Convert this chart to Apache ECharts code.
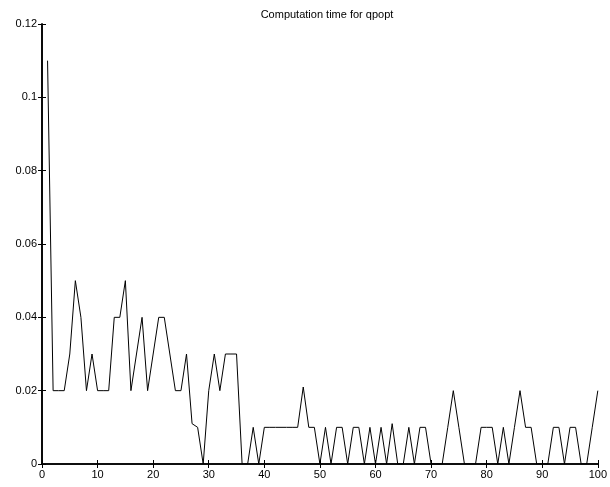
<!DOCTYPE html>
<html>
<head>
<meta charset="utf-8">
<script src="https://cdn.jsdelivr.net/npm/echarts@6/dist/echarts.min.js"></script>
<style>
html,body{margin:0;padding:0;background:#fff;}
#chart{width:610px;height:487px;}
</style>
</head>
<body>
<div id="chart"></div>
<script>
var titleText = "Computation time for qpopt";
var iterations = [];
for (var i = 1; i <= 100; i++) iterations.push(i);
var times = [
  0.11, 0.02, 0.02, 0.02, 0.03, 0.05, 0.04, 0.02, 0.03, 0.02,
  0.02, 0.02, 0.04, 0.04, 0.05, 0.02, 0.03, 0.04, 0.02, 0.03,
  0.04, 0.04, 0.03, 0.02, 0.02, 0.03, 0.011, 0.010, 0, 0.02,
  0.03, 0.02, 0.03, 0.03, 0.03, 0, 0, 0.01, 0, 0.01,
  0.01, 0.01, 0.01, 0.01, 0.01, 0.01, 0.021, 0.01, 0.01, 0,
  0.01, 0, 0.01, 0.01, 0, 0.01, 0.01, 0, 0.01, 0,
  0.01, 0, 0.011, 0, 0, 0.01, 0, 0.01, 0.01, 0,
  0, 0, 0.01, 0.02, 0.01, 0, 0, 0, 0.01, 0.01,
  0.01, 0, 0.01, 0, 0.01, 0.02, 0.01, 0.01, 0, 0,
  0, 0.01, 0.01, 0, 0.01, 0.01, 0, 0, 0.01, 0.02
];
var xTicks = [0, 10, 20, 30, 40, 50, 60, 70, 80, 90, 100];
var yTicks = [0, 0.02, 0.04, 0.06, 0.08, 0.1, 0.12];

var data = iterations.map(function (x, k) { return [x, times[k]]; });
var font = "Liberation Sans, Arial, Helvetica, sans-serif";
var boxStyle = { color: "#000", width: 1.6 };
var tickStyle = { color: "#000", width: 1 };

var chart = echarts.init(document.getElementById("chart"), null, { renderer: "canvas" });
chart.setOption({
  animation: false,
  backgroundColor: "#fff",
  title: {
    text: titleText,
    left: 322,
    textAlign: "center",
    top: 4,
    textStyle: { fontFamily: font, fontSize: 11, fontWeight: "normal", color: "#000" }
  },
  grid: { left: 42, right: 9, top: 24, bottom: 23, containLabel: false },
  xAxis: [{
    type: "value", min: xTicks[0], max: xTicks[xTicks.length - 1], interval: 10,
    position: "bottom",
    axisLine: { show: true, lineStyle: boxStyle },
    axisTick: { show: true, inside: true, length: 4, lineStyle: tickStyle },
    axisLabel: { show: true, margin: 5, color: "#000", fontFamily: font, fontSize: 11 },
    splitLine: { show: false }
  }, {
    type: "value", min: xTicks[0], max: xTicks[xTicks.length - 1], interval: 10,
    position: "top",
    axisLine: { show: true, lineStyle: boxStyle },
    axisTick: { show: true, inside: true, length: 4, lineStyle: tickStyle },
    axisLabel: { show: false },
    splitLine: { show: false }
  }],
  yAxis: [{
    type: "value", min: yTicks[0], max: yTicks[yTicks.length - 1], interval: 0.02,
    position: "left",
    axisLine: { show: true, lineStyle: boxStyle },
    axisTick: { show: true, inside: true, length: 4, lineStyle: tickStyle },
    axisLabel: { show: true, margin: 5, color: "#000", fontFamily: font, fontSize: 11 },
    splitLine: { show: false }
  }, {
    type: "value", min: yTicks[0], max: yTicks[yTicks.length - 1], interval: 0.02,
    position: "right",
    axisLine: { show: true, lineStyle: boxStyle },
    axisTick: { show: true, inside: true, length: 4, lineStyle: tickStyle },
    axisLabel: { show: false },
    splitLine: { show: false }
  }],
  series: [{
    type: "line",
    data: data,
    xAxisIndex: 0,
    yAxisIndex: 0,
    showSymbol: false,
    symbol: "none",
    lineStyle: { color: "#000", width: 1 },
    z: 1
  }]
});
</script>
</body>
</html>
